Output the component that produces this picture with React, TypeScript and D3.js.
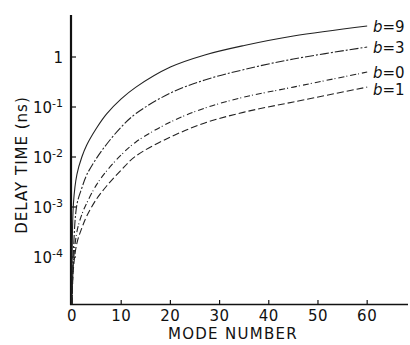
import React, { useEffect, useRef } from 'react'
import * as d3 from 'd3'

// mode numbers sampled along every curve
const modes = [0, 0.3, 1, 2, 3, 5, 7, 10, 13, 20, 27, 35, 45, 60]

// delay time (ns)
const delayB9 = [1e-6, 1.2e-3, 4.5e-3, 1.0e-2, 1.74e-2, 3.8e-2, 7.2e-2, 0.145, 0.25, 0.63, 1.1, 1.7, 2.63, 4.17]
const delayB3 = [1e-6, 1.38e-4, 1.12e-3, 2.4e-3, 4.4e-3, 9.5e-3, 1.78e-2, 3.98e-2, 7.4e-2, 0.19, 0.347, 0.562, 0.912, 1.58]
const delayB0 = [1e-6, 7.9e-5, 3.2e-4, 7.1e-4, 1.2e-3, 2.8e-3, 5.2e-3, 1.1e-2, 2.0e-2, 5.0e-2, 9.5e-2, 0.158, 0.25, 0.5]
const delayB1 = [1e-6, 6.0e-5, 1.9e-4, 3.8e-4, 6.6e-4, 1.45e-3, 2.6e-3, 5.5e-3, 1.05e-2, 2.5e-2, 4.8e-2, 7.9e-2, 0.126, 0.25]

const seriesNames = ['9', '3', '0', '1']
const seriesValues = [delayB9, delayB3, delayB0, delayB1]

const xTicks = [0, 10, 20, 30, 40, 50, 60]
const yTicks = [1e-4, 1e-3, 1e-2, 1e-1, 1]
const yTickExp = ['-4', '-3', '-2', '-1', '']

const font = '"DejaVu Sans", sans-serif'

export default function App() {
  const ref = useRef<SVGSVGElement>(null)

  useEffect(() => {
    const svg = d3.select(ref.current)
    svg.selectAll('*').remove()

    const x = d3.scaleLinear().domain([0, 68.3]).range([72, 408])
    const y = d3.scaleLog().domain([Math.pow(10, -4.94), Math.pow(10, 0.84)]).range([304, 15]).clamp(true)

    // axes
    svg.append('line')
      .attr('x1', 71).attr('x2', 71).attr('y1', 15).attr('y2', 305)
      .attr('stroke', '#111').attr('stroke-width', 2.2)
    svg.append('line')
      .attr('x1', 70).attr('x2', x(68.3)).attr('y1', 304.5).attr('y2', 304.5)
      .attr('stroke', '#111').attr('stroke-width', 1.6)

    svg.append('g').selectAll('line')
      .data(xTicks.slice(1))
      .join('line')
      .attr('x1', d => x(d)).attr('x2', d => x(d))
      .attr('y1', 304).attr('y2', 300)
      .attr('stroke', '#111').attr('stroke-width', 1.2)

    svg.append('g').selectAll('line')
      .data(yTicks)
      .join('line')
      .attr('x1', 71).attr('x2', 76)
      .attr('y1', d => y(d)).attr('y2', d => y(d))
      .attr('stroke', '#111').attr('stroke-width', 1.2)

    svg.append('g').selectAll('text')
      .data(xTicks)
      .join('text')
      .attr('x', d => x(d))
      .attr('y', 321)
      .attr('text-anchor', 'middle')
      .attr('font-family', font)
      .attr('font-size', 15)
      .attr('letter-spacing', 0.5)
      .attr('fill', '#111')
      .text(d => String(d))

    const yl = svg.append('g').selectAll('text')
      .data(yTicks)
      .join('text')
      .attr('x', 63)
      .attr('y', d => y(d) + 6)
      .attr('text-anchor', 'end')
      .attr('font-family', font)
      .attr('font-size', 15)
      .attr('fill', '#111')
    yl.each(function (d, i) {
      const t = d3.select(this)
      if (d === 1) {
        t.text('1')
        return
      }
      t.append('tspan').text('10')
      t.append('tspan').attr('font-size', 11).attr('dy', -6).text(yTickExp[i])
    })

    svg.append('text')
      .attr('x', 233).attr('y', 339)
      .attr('text-anchor', 'middle')
      .attr('font-family', font).attr('font-size', 15)
      .attr('letter-spacing', 1.3)
      .attr('fill', '#111')
      .text('MODE NUMBER')

    svg.append('text')
      .attr('transform', 'translate(27,165) rotate(-90)')
      .attr('text-anchor', 'middle')
      .attr('font-family', font).attr('font-size', 15)
      .attr('letter-spacing', 1)
      .attr('fill', '#111')
      .text('DELAY TIME (ns)')

    // curves
    const line = d3.line<number>()
      .x((_, i) => x(modes[i]))
      .y(d => y(d))
      .curve(d3.curveCatmullRom.alpha(0.5))

    const dashes = ['none', '9,2,2,2', '6,2,1,3', '7,3']
    svg.append('g').selectAll('path')
      .data(seriesValues)
      .join('path')
      .attr('d', d => line(d))
      .attr('fill', 'none')
      .attr('stroke', '#222')
      .attr('stroke-width', 1.1)
      .attr('stroke-dasharray', (_, i) => dashes[i])

    // curve labels
    const lbl = svg.append('g').selectAll('text')
      .data(seriesValues)
      .join('text')
      .attr('x', 373)
      .attr('y', (d, i) => y(d[d.length - 1]) + (i === 3 ? 8 : 6))
      .attr('font-family', font)
      .attr('font-size', 15)
      .attr('fill', '#111')
    lbl.each(function (_, i) {
      const t = d3.select(this)
      t.append('tspan').attr('font-style', 'italic').text('b')
      t.append('tspan').text('=' + seriesNames[i])
    })
  }, [])

  return (
    <svg ref={ref} width={410} height={345}
      style={{ position: 'absolute', left: 0, top: 0, background: '#fff' }} />
  )
}
